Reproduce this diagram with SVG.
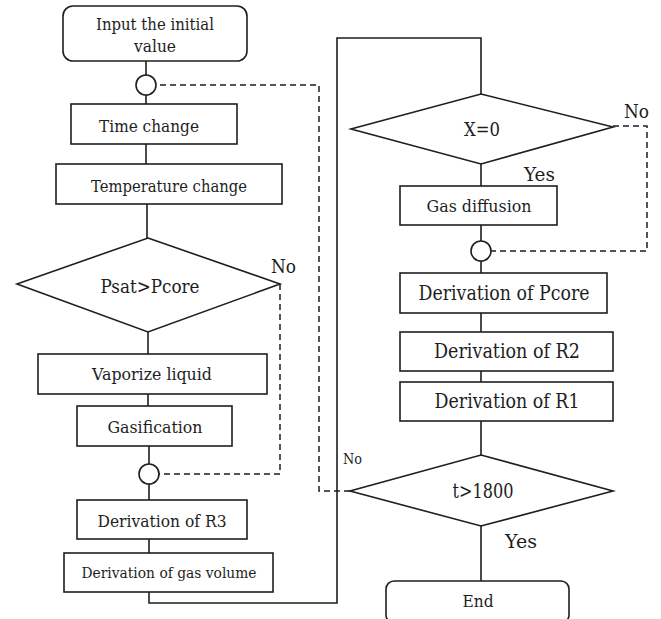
<svg xmlns="http://www.w3.org/2000/svg" width="661" height="619" viewBox="0 0 661 619">
<style>
.s{fill:#fff;stroke:#1e1e1e;stroke-width:1.6}
.l{fill:none;stroke:#1e1e1e;stroke-width:1.6}
.d{fill:none;stroke:#1e1e1e;stroke-width:1.5;stroke-dasharray:6 4}
text{fill:#1e1e1e;text-anchor:middle}
.a{text-anchor:start}
</style>
<rect width="661" height="619" fill="#fff"/>
<g id="connectors">
<path class="l" d="M146 61V75M146 95V104M146 144V164M147 204V238M148 332V354M148 394V406M149 446V464M149 484V500M149 539V553"/>
<path class="l" d="M149 592V603H337V38H481V94"/>
<path class="l" d="M481 164V186M481 225V241M481 261V273M481 313V332M481 371V382M481 421V455M481 526V581"/>
<path class="d" d="M280 284V474H159"/>
<path class="d" d="M350 491H319V85H156"/>
<path class="d" d="M613 126H647V251H491"/>
</g>
<g font-family="DejaVu Serif, serif" lengthAdjust="spacingAndGlyphs">
<g id="start"><rect class="s" x="63" y="6" width="184" height="55" rx="10"/><text x="155" y="30" font-size="17.5" textLength="118" lengthAdjust="spacingAndGlyphs">Input the initial</text><text x="155" y="52" font-size="17.5" textLength="42" lengthAdjust="spacingAndGlyphs">value</text></g>
<g id="merge1"><circle class="s" cx="146" cy="85" r="10"/></g>
<g id="time"><rect class="s" x="71" y="104" width="166" height="40"/><text x="149" y="132" font-size="17.5" textLength="100" lengthAdjust="spacingAndGlyphs">Time change</text></g>
<g id="temp"><rect class="s" x="56" y="164" width="226" height="40"/><text x="169" y="192" font-size="17.5" textLength="156" lengthAdjust="spacingAndGlyphs">Temperature change</text></g>
<g id="psat"><polygon class="s" points="148,238 280,284 148,332 17,284"/><text x="150" y="293" font-size="19" textLength="99" lengthAdjust="spacingAndGlyphs">Psat&gt;Pcore</text><text class="a" x="271" y="273" font-size="19" textLength="25" lengthAdjust="spacingAndGlyphs">No</text></g>
<g id="vapor"><rect class="s" x="38" y="354" width="229" height="40"/><text x="152" y="380" font-size="17.5" textLength="120" lengthAdjust="spacingAndGlyphs">Vaporize liquid</text></g>
<g id="gasif"><rect class="s" x="77" y="406" width="155" height="40"/><text x="155" y="433" font-size="17.5" textLength="95" lengthAdjust="spacingAndGlyphs">Gasification</text></g>
<g id="merge2"><circle class="s" cx="149" cy="474" r="10"/></g>
<g id="r3"><rect class="s" x="77" y="500" width="170" height="39"/><text x="162" y="527" font-size="17.5" textLength="129" lengthAdjust="spacingAndGlyphs">Derivation of R3</text></g>
<g id="gasvol"><rect class="s" x="64" y="553" width="209" height="39"/><text x="169" y="578" font-size="15" textLength="175" lengthAdjust="spacingAndGlyphs">Derivation of gas volume</text></g>
<g id="x0"><polygon class="s" points="481,94 613,127 481,164 351,129"/><text x="482" y="136" font-size="18" textLength="36" lengthAdjust="spacingAndGlyphs">X=0</text><text class="a" x="624" y="118" font-size="18.5" textLength="25" lengthAdjust="spacingAndGlyphs">No</text><text class="a" x="524" y="181" font-size="18" textLength="31" lengthAdjust="spacingAndGlyphs">Yes</text></g>
<g id="diff"><rect class="s" x="400" y="186" width="157" height="39"/><text x="479" y="212" font-size="17.5" textLength="105" lengthAdjust="spacingAndGlyphs">Gas diffusion</text></g>
<g id="merge3"><circle class="s" cx="481" cy="251" r="10"/></g>
<g id="pcore"><rect class="s" x="400" y="273" width="207" height="40"/><text x="504" y="300" font-size="19.5" textLength="171" lengthAdjust="spacingAndGlyphs">Derivation of Pcore</text></g>
<g id="r2"><rect class="s" x="400" y="332" width="213" height="39"/><text x="507" y="358" font-size="19.5" textLength="146" lengthAdjust="spacingAndGlyphs">Derivation of R2</text></g>
<g id="r1"><rect class="s" x="400" y="382" width="213" height="39"/><text x="507" y="408" font-size="19.5" textLength="145" lengthAdjust="spacingAndGlyphs">Derivation of R1</text></g>
<g id="t1800"><polygon class="s" points="481,455 613,491 481,526 350,491"/><text x="483" y="498" font-size="19.5" textLength="61" lengthAdjust="spacingAndGlyphs">t&gt;1800</text><text class="a" x="343" y="464" font-size="14" textLength="19" lengthAdjust="spacingAndGlyphs">No</text><text class="a" x="505" y="548" font-size="18.5" textLength="32" lengthAdjust="spacingAndGlyphs">Yes</text></g>
<g id="end"><rect class="s" x="386" y="581" width="183" height="42" rx="8"/><text x="478" y="607" font-size="17.5" textLength="31" lengthAdjust="spacingAndGlyphs">End</text></g>
</g>
</svg>
